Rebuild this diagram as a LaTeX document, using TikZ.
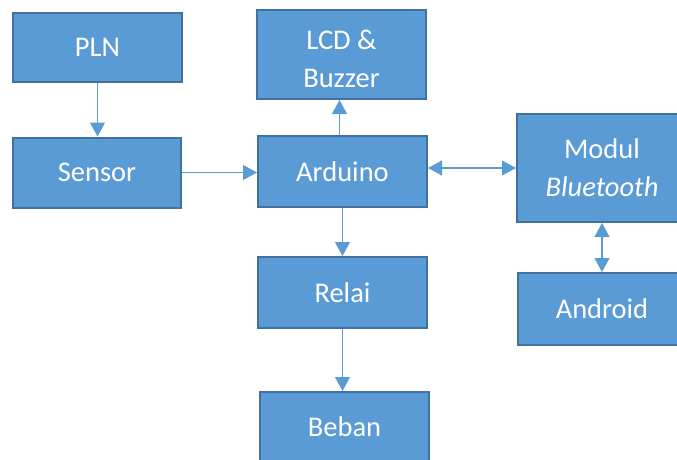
\documentclass[tikz,border=0pt]{standalone}
\usepackage{fontspec}
\setmainfont{Carlito}
\usetikzlibrary{arrows.meta}
\definecolor{boxfill}{HTML}{5B9BD5}
\definecolor{boxline}{HTML}{41719C}
\definecolor{arrcol}{HTML}{5B9BD5}
\tikzset{
  blk/.style={draw=boxline, line width=2pt, fill=boxfill, text=white, align=center,
    font=\fontsize{28.5}{38}\selectfont, inner sep=0pt},
  lbl/.style={text=white, align=center, font=\fontsize{28.5}{38}\selectfont, inner sep=0pt},
  arr/.style={draw=arrcol, line width=1.2pt, -{Triangle[width=15pt,length=14pt]}},
  darr/.style={draw=arrcol, line width=1.2pt, {Triangle[width=15pt,length=14pt]}-{Triangle[width=15pt,length=14pt]}}
}
\begin{document}
\begin{tikzpicture}[x=1pt,y=-1pt]
\useasboundingbox (0,0) rectangle (677,460);
\node[blk, minimum width=169pt, minimum height=69pt] (pln) at (97.5,47.5) {PLN};
\node[blk, minimum width=168pt, minimum height=70pt] (sensor) at (97,172.5) {Sensor};
\node[blk, minimum width=169pt, minimum height=89pt] (lcd) at (341.5,54.5) {};
\node[lbl] (lcdtext) at (341.5,59) {LCD \&\\Buzzer};
\node[blk, minimum width=169pt, minimum height=71pt] (ard) at (342.5,171.5) {Arduino};
\node[blk, minimum width=170pt, minimum height=108pt] (bt) at (602,168) {Modul\\\textit{Bluetooth}};
\node[blk, minimum width=168pt, minimum height=72pt] (andr) at (602,309) {Android};
\node[blk, minimum width=169pt, minimum height=71pt] (relai) at (342.5,292.5) {Relai};
\node[blk, minimum width=169pt, minimum height=70pt] (beban) at (344.5,427) {Beban};
\draw[arr] (pln.south) -- (pln.south |- sensor.north);
\draw[arr] (sensor.east) -- (sensor.east -| ard.west);
\draw[arr] ([xshift=-3pt]ard.north) -- ([xshift=-3pt]ard.north |- lcd.south);
\draw[darr] (bt.west -| ard.east) -- (bt.west);
\draw[darr] (bt.south) -- (bt.south |- andr.north);
\draw[arr] (ard.south) -- (ard.south |- relai.north);
\draw[arr] (relai.south) -- (relai.south |- beban.north);
\end{tikzpicture}
\end{document}
